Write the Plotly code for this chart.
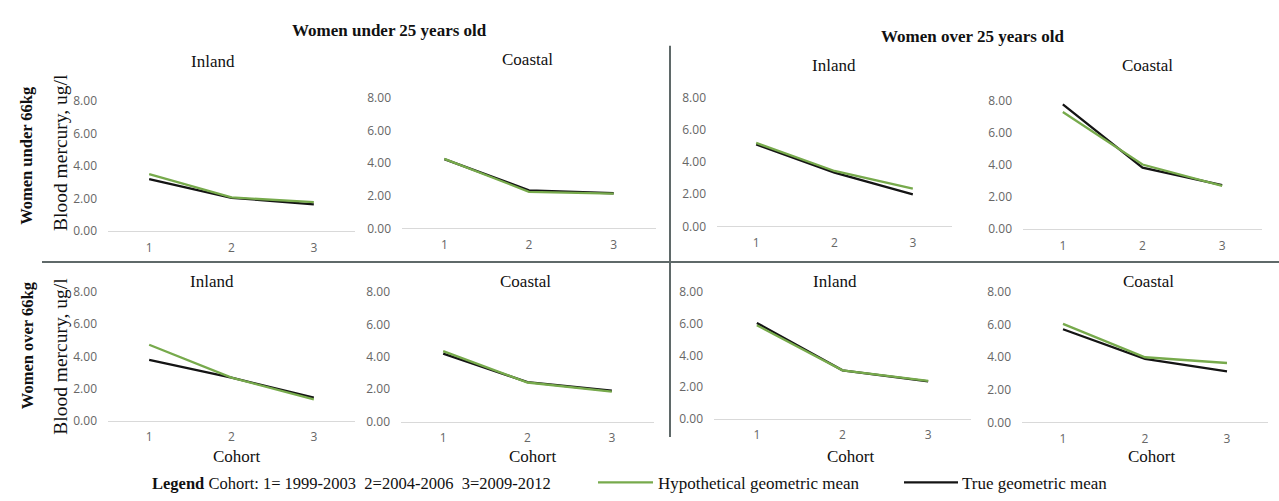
import plotly.graph_objects as go

W, H = 1279, 501

cohorts = [1, 2, 3]
y_ticks = [0, 2, 4, 6, 8]

# Hypothetical (green) and true (black) geometric means, per panel
hyp_u25_u66_inland = [3.50, 2.07, 1.78]
true_u25_u66_inland = [3.20, 2.05, 1.65]
hyp_u25_u66_coastal = [4.26, 2.24, 2.13]
true_u25_u66_coastal = [4.24, 2.33, 2.15]
hyp_o25_u66_inland = [5.20, 3.45, 2.35]
true_o25_u66_inland = [5.10, 3.35, 1.99]
hyp_o25_u66_coastal = [7.30, 4.03, 2.70]
true_o25_u66_coastal = [7.77, 3.83, 2.75]
hyp_u25_o66_inland = [4.72, 2.67, 1.32]
true_u25_o66_inland = [3.77, 2.67, 1.43]
hyp_u25_o66_coastal = [4.35, 2.41, 1.85]
true_u25_o66_coastal = [4.20, 2.43, 1.90]
hyp_o25_o66_inland = [5.90, 3.05, 2.38]
true_o25_o66_inland = [6.05, 3.05, 2.35]
hyp_o25_o66_coastal = [6.05, 4.00, 3.65]
true_o25_o66_coastal = [5.72, 3.90, 3.14]

panel_titles = ["Inland", "Coastal", "Inland", "Coastal",
                "Inland", "Coastal", "Inland", "Coastal"]
hyp_series = [hyp_u25_u66_inland, hyp_u25_u66_coastal, hyp_o25_u66_inland, hyp_o25_u66_coastal,
              hyp_u25_o66_inland, hyp_u25_o66_coastal, hyp_o25_o66_inland, hyp_o25_o66_coastal]
true_series = [true_u25_u66_inland, true_u25_u66_coastal, true_o25_u66_inland, true_o25_u66_coastal,
               true_u25_o66_inland, true_u25_o66_coastal, true_o25_o66_inland, true_o25_o66_coastal]

# plot-area boxes in pixels: (left, right, top, bottom)
boxes = [
    (108, 355, 95, 230), (402, 656, 92, 227), (717, 952, 92, 225), (1023, 1262, 95, 228),
    (108, 355, 293, 426), (401, 654, 293, 427), (714, 971, 293, 424), (1022, 1268, 293, 428),
]
title_pos = [(213, 54), (527, 52), (834, 59), (1147, 58),
             (212, 282), (525, 282), (835, 282), (1148, 282)]
cohort_pos = [(237, 463), (533, 463), (851, 463), (1152, 463)]

GREEN = "#77aa4c"
BLACK = "#141414"
SERIF = "Liberation Serif, Times New Roman, serif"
SANS = "Open Sans, Liberation Sans, sans-serif"

def px(x):
    return x / W

def py(y):
    return 1 - y / H

fig = go.Figure()
layout = dict(
    width=W, height=H, margin=dict(l=0, r=0, t=0, b=0),
    paper_bgcolor="white", plot_bgcolor="white", showlegend=False,
)

for i in range(8):
    n = i + 1
    xa = "x" if n == 1 else f"x{n}"
    ya = "y" if n == 1 else f"y{n}"
    fig.add_trace(go.Scatter(x=cohorts, y=true_series[i], mode="lines",
                             line=dict(color=BLACK, width=2.3),
                             name="True geometric mean", xaxis=xa, yaxis=ya))
    fig.add_trace(go.Scatter(x=cohorts, y=hyp_series[i], mode="lines",
                             line=dict(color=GREEN, width=2.3),
                             name="Hypothetical geometric mean", xaxis=xa, yaxis=ya))
    l, r, t, b = boxes[i]
    xkey = "xaxis" if n == 1 else f"xaxis{n}"
    ykey = "yaxis" if n == 1 else f"yaxis{n}"
    layout[xkey] = dict(
        domain=[px(l), px(r)], range=[0.5, 3.5], anchor=ya,
        tickvals=cohorts, ticktext=[str(c) for c in cohorts],
        showgrid=False, zeroline=False, showline=True, linecolor="#d9d9d9", linewidth=1.3,
        ticks="", ticklabelstandoff=5,
        tickfont=dict(family=SANS, size=12, color="#666666"), fixedrange=True,
    )
    layout[ykey] = dict(
        domain=[py(b), py(t)], range=[0, 8], anchor=xa,
        tickvals=y_ticks, tickformat=".2f",
        showgrid=False, zeroline=False, showline=False,
        ticks="", ticklabelstandoff=10,
        tickfont=dict(family=SANS, size=12, color="#666666"), fixedrange=True,
    )

annotations = []

def ann(text, x, y, size, bold=False, angle=0, xanchor="center", color="#111"):
    annotations.append(dict(
        text=f"<b>{text}</b>" if bold else text, x=px(x), y=py(y),
        xref="paper", yref="paper", showarrow=False, textangle=angle,
        xanchor=xanchor, yanchor="middle",
        font=dict(family=SERIF, size=size, color=color),
    ))

ann("Women under 25 years old", 389, 22, 17, bold=True)
ann("Women over 25 years old", 972, 28, 17, bold=True)
for (x, y), t in zip(title_pos, panel_titles):
    ann(t, x, y, 17)
for x, y in cohort_pos:
    ann("Cohort", x, y, 17)
ann("Women under 66kg", 27, 152, 16.5, bold=True, angle=-90)
ann("Women over 66kg", 27, 348, 16.5, bold=True, angle=-90)
ann("Blood mercury, ug/l", 61, 149, 19.5, angle=-90)
ann("Blood mercury, ug/l", 61, 360, 19.5, angle=-90)
ann("<b>Legend</b> Cohort: 1= 1999-2003  2=2004-2006  3=2009-2012", 150, 491, 16.5, xanchor="left")
ann("Hypothetical geometric mean", 656, 491, 17, xanchor="left")
ann("True geometric mean", 960, 491, 17, xanchor="left")

shapes = [
    dict(type="line", xref="paper", yref="paper", x0=px(670), x1=px(670), y0=py(38), y1=py(443),
         line=dict(color="#5f6969", width=2)),
    dict(type="line", xref="paper", yref="paper", x0=px(42), x1=px(1279), y0=py(262), y1=py(262),
         line=dict(color="#5f6969", width=2)),
    dict(type="line", xref="paper", yref="paper", x0=px(598), x1=px(653), y0=py(490), y1=py(490),
         line=dict(color=GREEN, width=2.3)),
    dict(type="line", xref="paper", yref="paper", x0=px(904), x1=px(958), y0=py(490), y1=py(490),
         line=dict(color=BLACK, width=2.3)),
]

layout["annotations"] = annotations
layout["shapes"] = shapes
fig.update_layout(**layout)

post = (
    "document.documentElement.style.margin='0';"
    "document.documentElement.style.overflow='hidden';"
    "document.body.style.margin='0';"
    "document.body.style.overflow='hidden';"
    "document.body.style.height='501px';"
    "var d=document.getElementById('{plot_id}');"
    "d.style.position='fixed';d.style.top='0px';d.style.left='0px';"
)
fig.write_html("out.html", config={"displayModeBar": False}, post_script=post)
